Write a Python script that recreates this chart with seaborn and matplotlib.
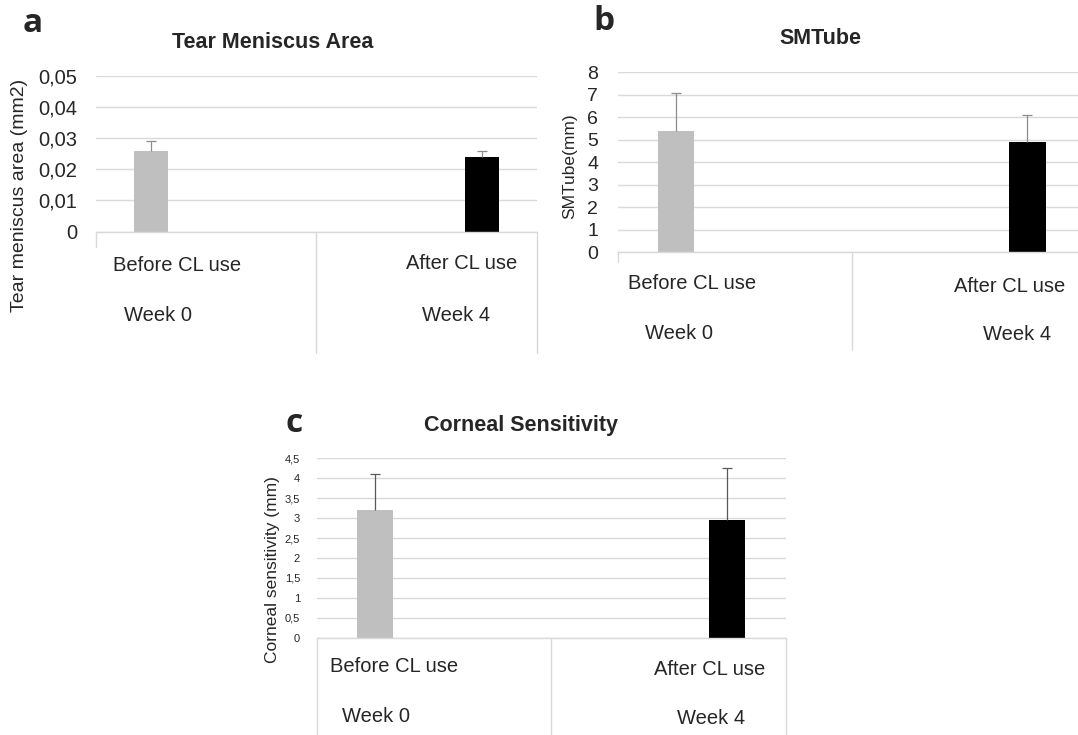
import numpy as np
import pandas as pd
import seaborn as sns
import matplotlib.pyplot as plt
import matplotlib.transforms as mtransforms
from matplotlib.ticker import FuncFormatter, MultipleLocator

# values (mean and upper SD)
conditions = ["Before CL use", "After CL use"]
weeks = ["Week 0", "Week 4"]
tear_mean = [0.026, 0.024]
tear_sd = [0.003, 0.002]
smtube_mean = [5.4, 4.9]
smtube_sd = [1.7, 1.2]
corneal_mean = [3.2, 2.95]
corneal_sd = [0.9, 1.3]

bar_colors = ["#bfbfbf", "#000000"]
grid_col = "#d9d9d9"

sns.set_style("white")
plt.rcParams["font.family"] = ["Liberation Sans", "DejaVu Sans"]

W, H = 1078, 735
fig = plt.figure(figsize=(W / 100, H / 100), dpi=100)


def rect(left, right, top, bottom):
    return [left / W, 1 - bottom / H, (right - left) / W, (bottom - top) / H]


def ftext(x, y, s, **kw):
    fig.text(x / W, 1 - y / H, s, ha="center", va="center", **kw)


def comma_fmt(dec):
    def f(v, pos):
        if abs(v) < 1e-12:
            return "0"
        s = f"{v:.{dec}f}" if dec else f"{v:g}"
        return s.replace(".", ",")
    return FuncFormatter(f)


def draw_panel(box, mean, sd, ymax, step, dec, tick_size, tick_pad, err_col,
               left_depth, mid_depth, right_depth, lab_pos):
    ax = fig.add_axes(rect(*box))
    df = pd.DataFrame({"cond": conditions, "value": mean})
    sns.barplot(data=df, x="cond", y="value", hue="cond", order=conditions,
                hue_order=conditions, palette=bar_colors, dodge=True, width=1,
                gap=0.69, errorbar=None, legend=False, linewidth=0, ax=ax)
    bars = sorted([p for p in ax.patches if p.get_height() > 0], key=lambda p: p.get_x())
    xs = [p.get_x() + p.get_width() / 2 for p in bars]
    eb = ax.errorbar(xs, mean, yerr=[np.zeros(len(sd)), sd], fmt="none",
                     ecolor=err_col, elinewidth=0.9, capsize=3.8, capthick=0.9)
    # only the upper cap is shown in the original
    eb[1][0].set_visible(False)
    ax.set_xlim(-0.5, 1.5)
    ax.set_ylim(0, ymax)
    ax.yaxis.set_major_locator(MultipleLocator(step))
    ax.yaxis.set_major_formatter(comma_fmt(dec))
    ax.yaxis.grid(True, color=grid_col, lw=1)
    ax.set_axisbelow(True)
    for s in ["left", "top", "right"]:
        ax.spines[s].set_visible(False)
    ax.spines["bottom"].set_color(grid_col)
    ax.spines["bottom"].set_linewidth(1)
    ax.set_xticks([])
    ax.set_xlabel("")
    ax.set_ylabel("")
    ax.tick_params(axis="y", length=0, labelsize=tick_size, pad=tick_pad)
    trans = mtransforms.blended_transform_factory(ax.transData, ax.transAxes)
    for x, d in zip([-0.5, 0.5, 1.5], [left_depth, mid_depth, right_depth]):
        ax.plot([x, x], [0, d], transform=trans, color=grid_col, lw=1, clip_on=False)
    for (x, y), s in zip(lab_pos, [conditions[0], weeks[0], conditions[1], weeks[1]]):
        ax.text(x, y, s, transform=trans, ha="center", va="center", fontsize=14.5)
    return ax


# a
draw_panel((95.7, 537, 75.7, 231.7), tear_mean, tear_sd, 0.05, 0.01, 2, 14.5, 13.2,
           "#8c8c8c", -0.1, -0.78, -0.78,
           [(-0.13, -0.218), (-0.218, -0.534), (1.157, -0.203), (1.131, -0.534)])
ftext(272.6, 42, "Tear Meniscus Area", fontsize=15.5, fontweight="bold")
ftext(20, 195, "Tear meniscus area (mm2)", fontsize=14, rotation=90)
ftext(33, 24, "a", fontsize=24, fontweight="bold", family="Open Sans")

# b
draw_panel((617.7, 1086, 72.3, 252.3), smtube_mean, smtube_sd, 8, 1, 0, 14, 14,
           "#8c8c8c", -0.055, -0.543, -0.543,
           [(-0.181, -0.172), (-0.238, -0.45), (1.172, -0.191), (1.205, -0.459)])
ftext(820.5, 38.5, "SMTube", fontsize=15.5, fontweight="bold")
ftext(570, 166, "SMTube(mm)", fontsize=12.5, rotation=90)
ftext(603.5, 21, "b", fontsize=24, fontweight="bold", family="Open Sans")

# c
draw_panel((316.7, 785.7, 458.3, 637.7), corneal_mean, corneal_sd, 4.5, 0.5, 0, 8, 12,
           "#595959", -0.6, -0.6, -0.6,
           [(-0.17, -0.162), (-0.246, -0.44), (1.174, -0.176), (1.181, -0.449)])
ftext(521, 425, "Corneal Sensitivity", fontsize=15.5, fontweight="bold")
ftext(272.5, 570, "Corneal sensitivity (mm)", fontsize=12.5, rotation=90)
ftext(294.5, 424, "c", fontsize=24, fontweight="bold", family="Open Sans")

fig.savefig("out.png", dpi=100)
